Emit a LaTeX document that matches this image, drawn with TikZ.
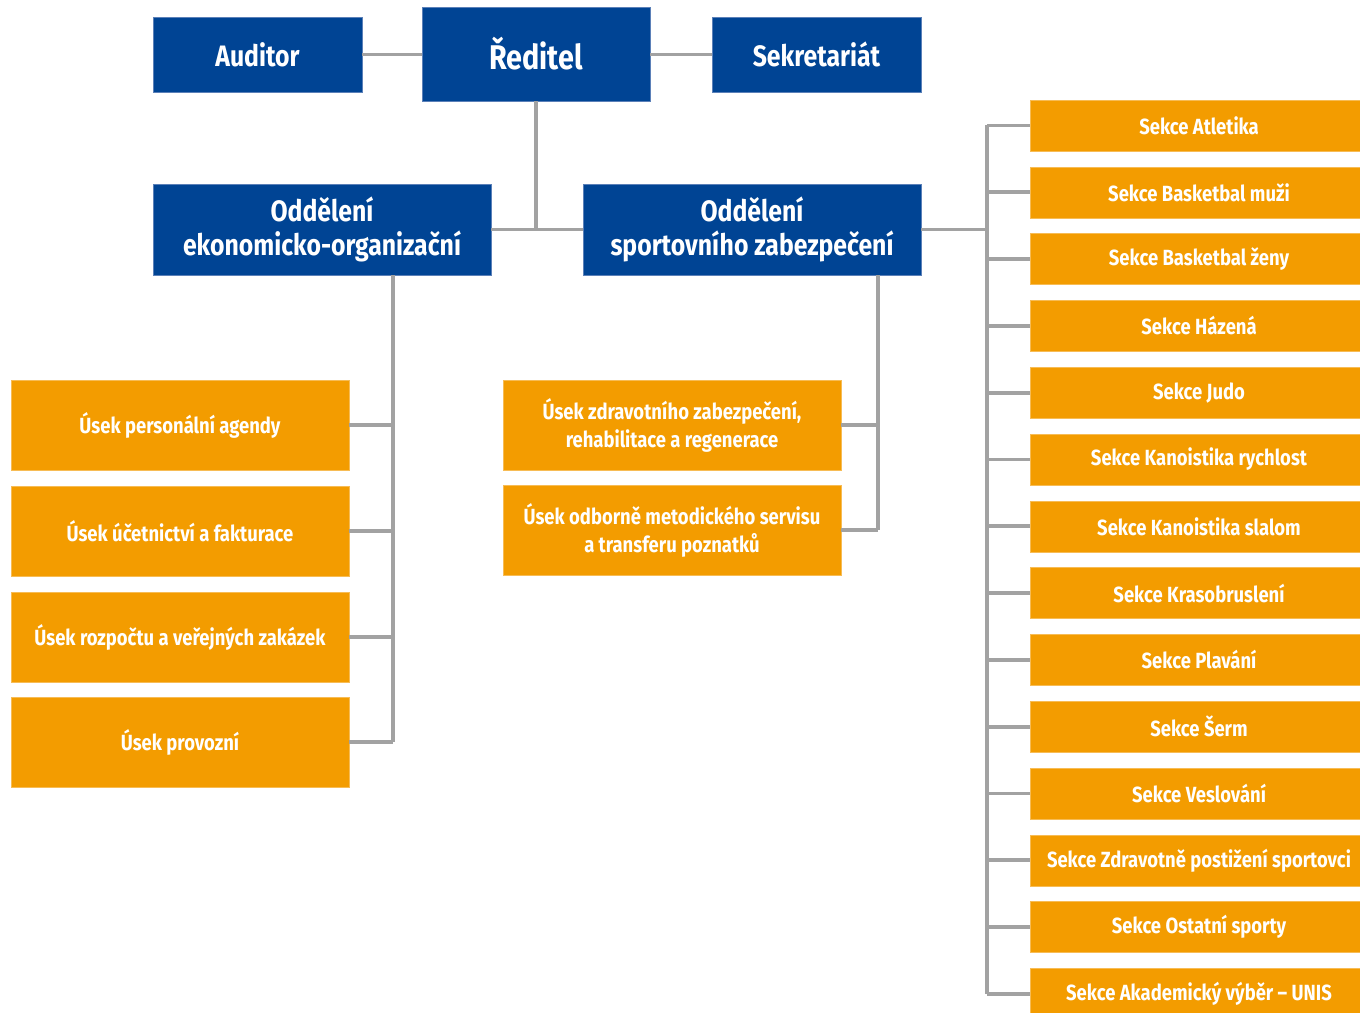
\documentclass[tikz,border=0pt]{standalone}
\usepackage{fontspec}
\setmainfont{Fira Sans}[FakeStretch=0.84]
\usepackage{tikz}
\usetikzlibrary{calc}
\definecolor{ChartBlue}{HTML}{004494}
\definecolor{ChartBlueEdge}{HTML}{5B80B8}
\definecolor{ChartOrange}{HTML}{F39C00}
\definecolor{ChartOrangeEdge}{HTML}{F7BC55}
\definecolor{ChartLine}{HTML}{A2A2A2}
\newcommand{\HeadFont}{\fontsize{19.5}{22}\selectfont\bfseries}
\newcommand{\DeptFont}{\fontsize{16.8}{19.5}\selectfont\bfseries}
\newcommand{\UnitFont}{\fontsize{12.5}{16}\selectfont\bfseries}
\tikzset{
  head box/.style={rectangle,fill=ChartBlue,draw=ChartBlueEdge,line width=0.3pt,
    text=white,align=center,inner sep=0pt,font=\DeptFont},
  unit box/.style={rectangle,fill=ChartOrange,draw=ChartOrangeEdge,line width=0.3pt,
    text=white,align=center,inner sep=0pt,font=\UnitFont,
    minimum width=6.76cm,minimum height=1.80cm},
  section box/.style={unit box,minimum width=6.76cm,minimum height=1.02cm},
  link/.style={draw=ChartLine,line width=2.1pt}
}

\begin{document}
\begin{tikzpicture}[x=0.02cm,y=-0.02cm]
  \path[use as bounding box] (0,0) rectangle (1360,1013);
  \clip (0,0) rectangle (1360,1013);

  % top row
  \node[head box,minimum width=4.56cm,minimum height=1.88cm,font=\HeadFont]
    (reditel) at (536,54) {Ředitel};
  \node[head box,minimum width=4.18cm,minimum height=1.50cm]
    (auditor) at (257.5,54.5) {Auditor};
  \node[head box,minimum width=4.18cm,minimum height=1.50cm]
    (sekretariat) at (816.5,54.5) {Sekretariát};

  \node[head box,minimum width=6.76cm,minimum height=1.82cm]
    (ekon) at (322,229.5) {Oddělení\\ekonomicko-organizační};
  \node[head box,minimum width=6.76cm,minimum height=1.82cm]
    (sport) at (752,229.5) {Oddělení\\sportovního zabezpečení};

  \draw[link] (auditor.east) -- (auditor.east -| reditel.west);
  \draw[link] (sekretariat.west) -- (sekretariat.west -| reditel.east);
  \coordinate (topjoin) at (reditel.south |- ekon.east);
  \draw[link] (reditel.south) -- (topjoin);
  \draw[link] (ekon.east) -- (sport.west);

  % left column
  \node[unit box] (usek1) at (180,425) {Úsek personální agendy};
  \node[unit box] (usek2) at (180,531) {Úsek účetnictví a fakturace};
  \node[unit box] (usek3) at (180,637) {Úsek rozpočtu a veřejných zakázek};
  \node[unit box] (usek4) at (180,742) {Úsek provozní};

  \coordinate (ekonbus) at (393,0);
  \draw[link] (ekon.south -| ekonbus) -- (usek4.east -| ekonbus);
  \foreach \n in {usek1,usek2,usek3,usek4}
    \draw[link] (\n.east) -- (\n.east -| ekonbus);

  % middle column
  \node[unit box] (zdrav) at (672,425)
    {Úsek zdravotního zabezpečení,\\rehabilitace a regenerace};
  \node[unit box] (metod) at (672,530)
    {Úsek odborně metodického servisu\\a transferu poznatků};

  \coordinate (sportbus) at (878,0);
  \draw[link] (sport.south -| sportbus) -- (metod.east -| sportbus);
  \foreach \n in {zdrav,metod}
    \draw[link] (\n.east) -- (\n.east -| sportbus);

  % sections
  \coordinate (sekcebus) at (987,0);
  \foreach \name/\txt [count=\i from 0] in {
      s1/Sekce Atletika,
      s2/Sekce Basketbal muži,
      s3/Sekce Basketbal ženy,
      s4/Sekce Házená,
      s5/Sekce Judo,
      s6/Sekce Kanoistika rychlost,
      s7/Sekce Kanoistika slalom,
      s8/Sekce Krasobruslení,
      s9/Sekce Plavání,
      s10/Sekce Šerm,
      s11/Sekce Veslování,
      s12/Sekce Zdravotně postižení sportovci,
      s13/Sekce Ostatní sporty,
      s14/Sekce Akademický výběr – UNIS}{
    \node[section box] (\name) at (1199,125.5+66.8*\i) {\txt};
    \draw[link] (\name.west) -- (\name.west -| sekcebus);
  }
  \draw[link] (s1.west -| sekcebus) -- (s14.west -| sekcebus);
  \draw[link] (sport.east) -- (sport.east -| sekcebus);
\end{tikzpicture}
\end{document}
